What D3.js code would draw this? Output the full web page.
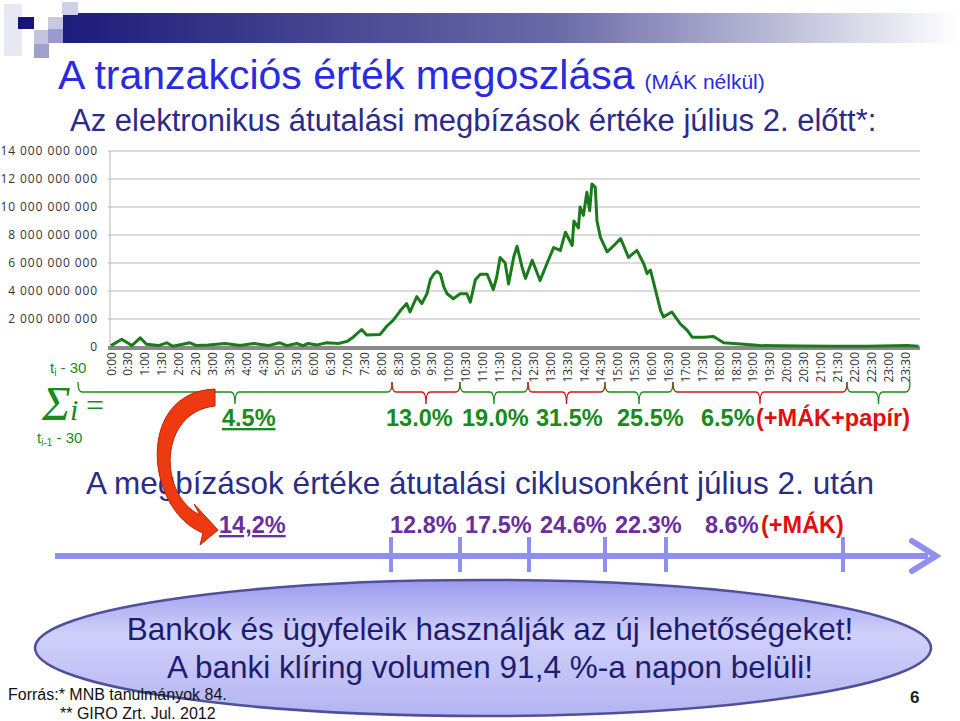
<!DOCTYPE html>
<html><head><meta charset="utf-8">
<script src="https://cdn.jsdelivr.net/npm/d3@7"></script>
<style>body{margin:0;background:#fff}svg{display:block}</style>
</head><body>
<script>
// minutes since midnight
const times = [0,19,37,52,63,84,99,110,140,152,173,203,229,253,279,300,312,330,341,350,366,383,404,419,430,445,454,478,490,501,514,525,531,543,552,561,567,573,579,585,591,597,608,620,632,638,647,656,668,679,685,691,700,706,715,721,730,736,748,762,774,786,798,807,819,822,830,833,839,845,850,854,860,863,869,881,893,905,919,934,946,952,958,967,976,981,996,1011,1023,1032,1053,1070,1088,1124,1153,1224,1283,1343,1414,1434];
// billions HUF
const values = [0.1,0.55,0.1,0.65,0.2,0.1,0.3,0.05,0.3,0.1,0.15,0.25,0.1,0.25,0.1,0.3,0.1,0.25,0.1,0.25,0.15,0.3,0.25,0.4,0.7,1.25,0.85,0.9,1.5,1.9,2.6,3.1,2.5,3.6,3.1,3.8,4.8,5.2,5.4,5.2,4.3,3.8,3.45,3.8,3.8,3.2,4.8,5.2,5.2,4.1,5.0,6.4,6.0,4.5,6.4,7.2,5.7,4.9,6.2,4.75,5.95,7.1,6.9,8.2,7.25,9.0,8.5,10.0,9.4,11.05,9.75,11.65,11.4,9.0,7.85,6.8,7.25,7.75,6.4,6.9,5.95,5.25,5.5,4.05,2.6,2.15,2.5,1.65,1.2,0.7,0.7,0.75,0.3,0.2,0.1,0.08,0.05,0.06,0.1,0.05];
const yTicks = [0,2e9,4e9,6e9,8e9,10e9,12e9,14e9];
const xLabels = d3.range(48).map(i=>Math.floor(i/2)+":"+(i%2?"30":"00"));
const braceBounds = [78,392,460,528,605,673,847,910];
const braceColors = ["#1a8a1a","#c81818","#1a8a1a","#c81818","#1a8a1a","#c81818","#1a8a1a"];
const beforeLabels = [["4.5%",222],["13.0%",386],["19.0%",462],["31.5%",536],["25.5%",617],["6.5%",701]];
const afterLabels = [["14,2%",219],["12.8%",390],["17.5%",465],["24.6%",540],["22.3%",615],["8.6%",705]];
const afterTicks = [391,460,529,605,666,843];

const svg = d3.select("body").append("svg").attr("width",960).attr("height",721);
const defs = svg.append("defs");
const g1 = defs.append("linearGradient").attr("id","bar");
g1.append("stop").attr("offset","0").attr("stop-color","#1c1c7a");
g1.append("stop").attr("offset","0.55").attr("stop-color","#6a6aa8");
g1.append("stop").attr("offset","1").attr("stop-color","#ffffff");
const g2 = defs.append("linearGradient").attr("id","ell").attr("x1",0).attr("y1",0).attr("x2",0).attr("y2",1);
g2.append("stop").attr("offset","0").attr("stop-color","#9a9aee");
g2.append("stop").attr("offset","0.4").attr("stop-color","#d0d0fa");
g2.append("stop").attr("offset","1").attr("stop-color","#b4b4f2");

// logo
svg.append("rect").attr("x",63).attr("y",13).attr("width",897).attr("height",30).attr("fill","url(#bar)");
[[4,4,18,52,"#e8e8f4"],[18,17,16,12,"#16167a"],[34,30,15,14,"#c4c4e0"],[48,17,15,12,"#c8c8e4"],[48,29,15,14,"#9a9ad0"],[62,2,16,13,"#d0d0e8"],[34,44,15,14,"#a0a0cc"]]
  .forEach(r=>svg.append("rect").attr("x",r[0]).attr("y",r[1]).attr("width",r[2]).attr("height",r[3]).attr("fill",r[4]));

// titles
const t = svg.append("text").attr("x",58).attr("y",89).attr("font-family","Liberation Sans, Arial").attr("fill","#2a2ae0");
t.append("tspan").attr("font-size",41).text("A tranzakciós érték megoszlása");
t.append("tspan").attr("font-size",21).attr("dx",10).text("(MÁK nélkül)");
svg.append("text").attr("x",70).attr("y",131).attr("font-family","Liberation Sans, Arial").attr("font-size",31).attr("fill","#2b2b88")
  .text("Az elektronikus átutalási megbízások értéke július 2. előtt*:");

// chart
const x = d3.scaleLinear().domain([0,1410]).range([111,905]);
const y = d3.scaleLinear().domain([0,14e9]).range([347,151]);
const fmt = v=>d3.format(",")(v).replace(/,/g," ");
svg.append("g").selectAll("line").data(yTicks.slice(1)).join("line")
  .attr("x1",108).attr("x2",920).attr("y1",d=>y(d)).attr("y2",d=>y(d)).attr("stroke","#b8b8b8").attr("stroke-width",1.2);
svg.append("line").attr("x1",110).attr("x2",110).attr("y1",151).attr("y2",347).attr("stroke","#b8b8b8");
svg.append("g").selectAll("text").data(yTicks).join("text")
  .attr("x",98).attr("y",d=>y(d)+4).attr("text-anchor","end").attr("font-family","Open Sans, DejaVu Sans").attr("font-size",12).attr("letter-spacing",0.9).attr("fill","#333").text(fmt);
svg.append("line").attr("x1",108).attr("x2",920).attr("y1",348).attr("y2",348).attr("stroke","#8a8a8a").attr("stroke-width",4);
svg.append("g").selectAll("text").data(xLabels).join("text")
  .attr("transform",(d,i)=>`translate(${x(i*30)+4.5},352) rotate(-90)`).attr("text-anchor","end")
  .attr("font-family","Open Sans, DejaVu Sans").attr("font-size",12).attr("fill","#333").text(d=>d);
svg.append("path").datum(times.map((tm,i)=>[tm,values[i]*1e9]))
  .attr("d",d3.line().x(d=>x(d[0])).y(d=>y(d[1])))
  .attr("fill","none").attr("stroke","#1b7a1b").attr("stroke-width",3).attr("stroke-linejoin","round");

// braces
for(let i=0;i<braceColors.length;i++){
  const a=braceBounds[i], b=braceBounds[i+1], m=(a+b)/2, c=braceColors[i];
  svg.append("path").attr("d",`M${a},382 Q${a},392 ${a+4},392 L${m-4},392 Q${m},392 ${m},404 Q${m},392 ${m+4},392 L${b-4},392 Q${b},392 ${b},382`)
    .attr("fill","none").attr("stroke",c).attr("stroke-width",1.3);
}
svg.append("text").attr("x",50).attr("y",373).attr("font-family","Liberation Sans, Arial").attr("font-size",15).attr("fill","#1a8a1a").html('t<tspan font-size="10" dy="3">i</tspan><tspan dy="-3"> - 30</tspan>');
svg.append("text").attr("x",37).attr("y",443).attr("font-family","Liberation Sans, Arial").attr("font-size",15).attr("fill","#1a8a1a").html('t<tspan font-size="10" dy="3">i-1</tspan><tspan dy="-3"> - 30</tspan>');
svg.append("text").attr("x",42).attr("y",420).attr("font-family","Liberation Serif, Times New Roman").attr("font-style","italic").attr("font-size",48).attr("fill","#1a8a1a").text("Σ");
svg.append("text").attr("x",70).attr("y",420).attr("font-family","Liberation Serif, Times New Roman").attr("font-style","italic").attr("font-size",30).attr("fill","#1a8a1a").text("i");
svg.append("text").attr("x",86).attr("y",416).attr("font-family","Liberation Serif, Times New Roman").attr("font-size",32).attr("fill","#1a8a1a").text("=");

const bl = svg.append("g").attr("font-family","Liberation Sans, Arial").attr("font-weight","bold").attr("font-size",23.5);
beforeLabels.forEach((d,i)=>bl.append("text").attr("x",d[1]).attr("y",426).attr("fill","#1a8a1a").attr("text-decoration",i==0?"underline":null).text(d[0]));
bl.append("text").attr("x",756).attr("y",426).attr("fill","#e01010").text("(+MÁK+papír)");

svg.append("text").attr("x",86).attr("y",494).attr("font-family","Liberation Sans, Arial").attr("font-size",31.5).attr("fill","#2b2b88")
  .text("A megbízások értéke átutalási ciklusonként július 2. után");
afterLabels.forEach((d,i)=>bl.append("text").attr("x",d[1]).attr("y",533).attr("fill","#6a2f9a").attr("text-decoration",i==0?"underline":null).text(d[0]));
bl.append("text").attr("x",761).attr("y",533).attr("fill","#e01010").text("(+MÁK)");

// timeline arrow
svg.append("line").attr("x1",55).attr("x2",928).attr("y1",556).attr("y2",556).attr("stroke","#8f8ff0").attr("stroke-width",6);
svg.append("path").attr("d","M912,541 L936,556 L912,571").attr("fill","none").attr("stroke","#8f8ff0").attr("stroke-width",6).attr("stroke-linecap","round");
svg.append("g").selectAll("line").data(afterTicks).join("line").attr("x1",d=>d).attr("x2",d=>d).attr("y1",537).attr("y2",572).attr("stroke","#8f8ff0").attr("stroke-width",4);

// red curved arrow
svg.append("path").attr("d","M215,406 C158,412 158,495 200,515 L194,504 L218,530 L200,545 L203,533 C145,510 135,392 215,389 Z")
  .attr("fill","#ee3a10").attr("stroke","#c02000").attr("stroke-width",1);

// ellipse
svg.append("ellipse").attr("cx",483).attr("cy",648).attr("rx",448).attr("ry",68).attr("fill","url(#ell)").attr("stroke","#50509a").attr("stroke-width",2.5);
svg.append("text").attr("x",490).attr("y",640).attr("text-anchor","middle").attr("font-family","Liberation Sans, Arial").attr("font-size",31.5).attr("fill","#1c1c70").text("Bankok és ügyfeleik használják az új lehetőségeket!");
svg.append("text").attr("x",490).attr("y",678).attr("text-anchor","middle").attr("font-family","Liberation Sans, Arial").attr("font-size",31.5).attr("fill","#1c1c70").text("A banki klíring volumen 91,4 %-a napon belüli!");

svg.append("text").attr("x",8).attr("y",700).attr("font-family","Liberation Sans, Arial").attr("font-size",16).attr("fill","#111").text("Forrás:* MNB tanulmányok 84.");
svg.append("text").attr("x",60).attr("y",719).attr("font-family","Liberation Sans, Arial").attr("font-size",16).attr("fill","#111").text("** GIRO Zrt. Jul. 2012");
svg.append("text").attr("x",910).attr("y",703).attr("font-family","Liberation Sans, Arial").attr("font-weight","bold").attr("font-size",17).attr("fill","#222").text("6");
</script>
</body></html>
